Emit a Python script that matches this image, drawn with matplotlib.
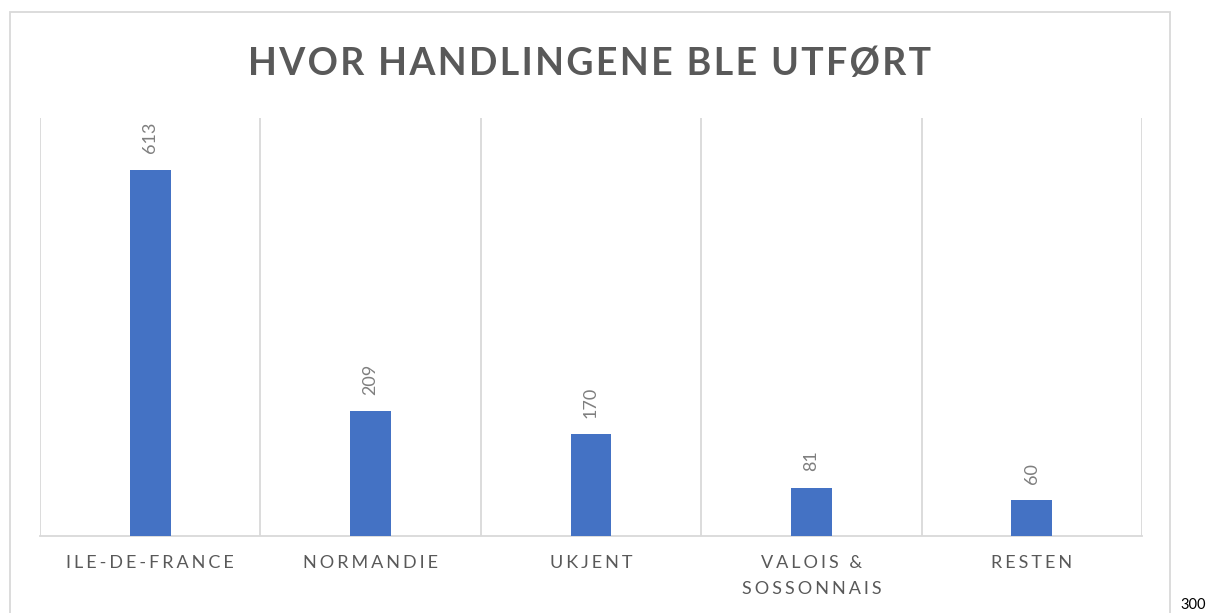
import matplotlib
matplotlib.use('Agg')
import matplotlib.pyplot as plt
from matplotlib.patches import Rectangle

plt.rcParams['font.family'] = ['Lato', 'DejaVu Sans']

# data
categories = ['ILE-DE-FRANCE', 'NORMANDIE', 'UKJENT', 'VALOIS &\nSOSSONNAIS', 'RESTEN']
values = [613, 209, 170, 81, 60]
title = 'HVOR HANDLINGENE BLE UTFØRT'

W, H = 1206, 613
fig = plt.figure(figsize=(W / 100, H / 100), dpi=100)


def spaced(s, sep):
    # fake letter spacing, keep line breaks
    return '\n'.join(sep.join(line) for line in s.split('\n'))


# chart border (bottom edge runs off the picture)
fig.patches.append(Rectangle((10 / W, -0.05), 1160 / W, 1.05 - 12 / H,
                             transform=fig.transFigure, fill=False,
                             edgecolor='#d9d9d9', lw=1.3))

ax = fig.add_axes([40 / W, 1 - 536 / H, 1102 / W, (536 - 118) / H])
x = list(range(len(values)))
ax.bar(x, values, width=0.186, color='#4472C4', zorder=3)
ax.set_xlim(-0.5, len(values) - 0.5)
ax.set_ylim(0, 700)

for b in [i - 0.5 for i in range(len(values) + 1)]:
    ax.axvline(b, color='#d9d9d9', lw=1.3, zorder=1)

for xi, v in zip(x, values):
    ax.annotate(str(v), (xi, v), xytext=(0, 12), textcoords='offset points',
                rotation=90, ha='center', va='bottom', fontsize=13, color='#7f7f7f')

for s in ['top', 'left', 'right']:
    ax.spines[s].set_visible(False)
ax.spines['bottom'].set_color('#d9d9d9')
ax.spines['bottom'].set_linewidth(1.3)
ax.set_yticks([])
ax.set_xticks(x)
ax.set_xticklabels([spaced(c, '\u2006') for c in categories], fontsize=13,
                   color='#595959', linespacing=1.75)
ax.tick_params(axis='x', length=0, pad=14)

fig.text(589 / W, 1 - 75 / H, spaced(title, '\u200a'), ha='center', va='baseline',
         fontsize=27, fontweight='bold', color='#595959')

fig.text(1180 / W, 1 - 609 / H, '300', ha='left', va='baseline', fontsize=10.5, color='black')

fig.savefig('out.png', dpi=100)
